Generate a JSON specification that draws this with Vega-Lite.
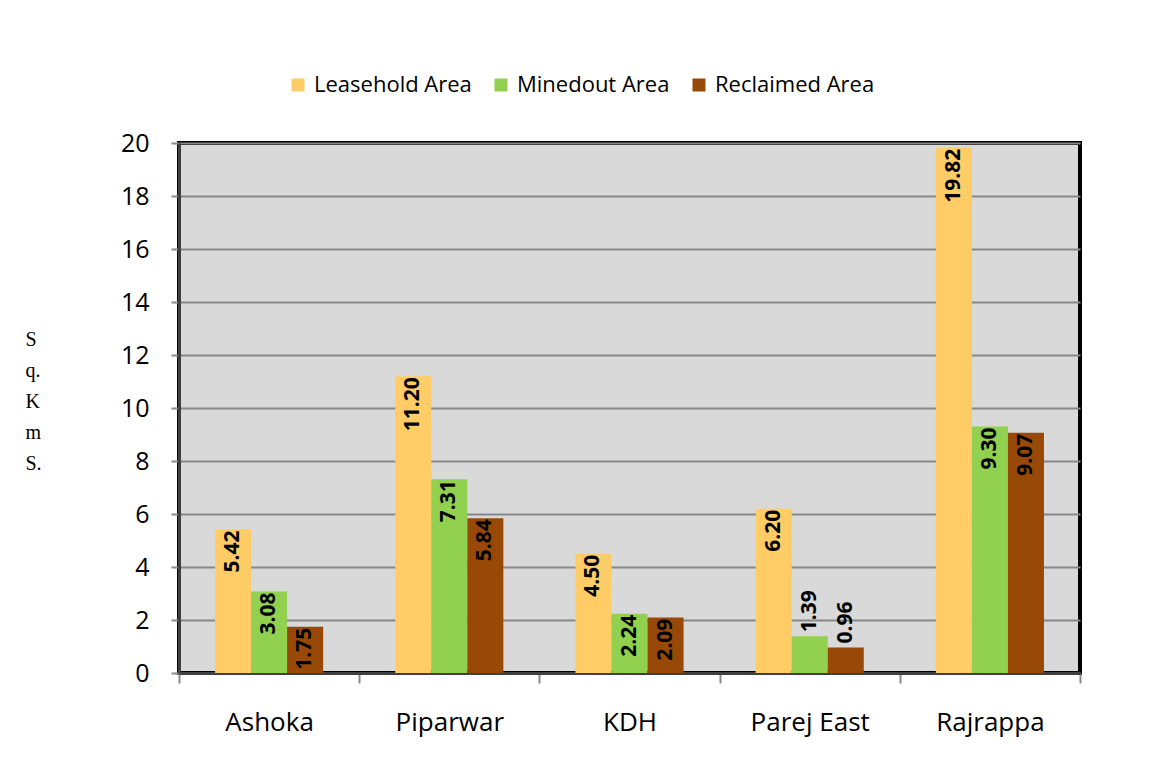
{
  "$schema": "https://vega.github.io/schema/vega-lite/v6.json",
  "width": 901,
  "height": 530,
  "autosize": {"type": "none"},
  "padding": {"left": 179, "top": 143, "right": 88, "bottom": 85},
  "background": "white",
  "config": {
    "view": {"fill": "#D9D9D9", "stroke": "#000000", "strokeWidth": 4},
    "font": "Open Sans"
  },
  "data": {
    "values": [
      {"mine": "Ashoka", "series": "Leasehold Area", "value": 5.42},
      {"mine": "Ashoka", "series": "Minedout Area", "value": 3.08},
      {"mine": "Ashoka", "series": "Reclaimed Area", "value": 1.75},
      {"mine": "Piparwar", "series": "Leasehold Area", "value": 11.20},
      {"mine": "Piparwar", "series": "Minedout Area", "value": 7.31},
      {"mine": "Piparwar", "series": "Reclaimed Area", "value": 5.84},
      {"mine": "KDH", "series": "Leasehold Area", "value": 4.50},
      {"mine": "KDH", "series": "Minedout Area", "value": 2.24},
      {"mine": "KDH", "series": "Reclaimed Area", "value": 2.09},
      {"mine": "Parej East", "series": "Leasehold Area", "value": 6.20},
      {"mine": "Parej East", "series": "Minedout Area", "value": 1.39},
      {"mine": "Parej East", "series": "Reclaimed Area", "value": 0.96},
      {"mine": "Rajrappa", "series": "Leasehold Area", "value": 19.82},
      {"mine": "Rajrappa", "series": "Minedout Area", "value": 9.30},
      {"mine": "Rajrappa", "series": "Reclaimed Area", "value": 9.07}
    ]
  },
  "encoding": {
    "x": {
      "field": "mine",
      "type": "nominal",
      "sort": ["Ashoka", "Piparwar", "KDH", "Parej East", "Rajrappa"],
      "scale": {"paddingInner": 0, "paddingOuter": 0},
      "axis": {
        "title": null,
        "labelAngle": 0,
        "labelFont": "Open Sans",
        "labelFontSize": 26,
        "labelColor": "#000000",
        "labelPadding": 26,
        "domainColor": "#404040",
        "domainWidth": 3,
        "tickColor": "#888888",
        "tickWidth": 2,
        "tickSize": 10,
        "tickBand": "extent"
      }
    },
    "xOffset": {
      "field": "series",
      "sort": ["Leasehold Area", "Minedout Area", "Reclaimed Area"],
      "scale": {"paddingInner": 0, "paddingOuter": 1}
    },
    "y": {
      "field": "value",
      "type": "quantitative",
      "scale": {"domain": [0, 20], "nice": false},
      "axis": {
        "values": [0, 2, 4, 6, 8, 10, 12, 14, 16, 18, 20],
        "labelFont": "Open Sans",
        "labelFontSize": 25,
        "labelColor": "#000000",
        "labelPadding": 22,
        "domainColor": "#404040",
        "domainWidth": 3,
        "tickColor": "#888888",
        "tickWidth": 2,
        "tickSize": 8,
        "grid": true,
        "gridColor": "#888888",
        "gridWidth": 2,
        "title": ["S", "q.", "K", "m", "S."],
        "titleFont": "Liberation Serif",
        "titleFontSize": 20,
        "titleFontWeight": "normal",
        "titleColor": "#000000",
        "titleAngle": 0,
        "titleAlign": "left",
        "titleBaseline": "alphabetic",
        "titleX": -154,
        "titleY": 202,
        "titleLineHeight": 31
      }
    }
  },
  "layer": [
    {
      "mark": {"type": "bar"},
      "encoding": {
        "color": {
          "field": "series",
          "type": "nominal",
          "sort": ["Leasehold Area", "Minedout Area", "Reclaimed Area"],
          "scale": {
            "domain": ["Leasehold Area", "Minedout Area", "Reclaimed Area"],
            "range": ["#FFCC66", "#92D050", "#984807"]
          },
          "legend": {
            "title": null,
            "orient": "none",
            "legendX": 108,
            "legendY": -69,
            "direction": "horizontal",
            "symbolType": "square",
            "symbolSize": 169,
            "symbolStrokeWidth": 0,
            "symbolOpacity": 1,
            "labelFont": "Open Sans",
            "labelFontSize": 22,
            "labelColor": "#000000",
            "labelOffset": 5,
            "columnPadding": 18
          }
        }
      }
    },
    {
      "transform": [{"filter": "datum.value >= 1.5"}],
      "mark": {
        "type": "text",
        "angle": 270,
        "align": "right",
        "baseline": "middle",
        "dx": -1,
        "font": "Open Sans",
        "fontSize": 21,
        "fontWeight": "bold",
        "color": "#000000"
      },
      "encoding": {"text": {"field": "value", "type": "quantitative", "format": ".2f"}}
    },
    {
      "transform": [{"filter": "datum.value < 1.5"}],
      "mark": {
        "type": "text",
        "angle": 270,
        "align": "left",
        "baseline": "middle",
        "dx": 4,
        "font": "Open Sans",
        "fontSize": 21,
        "fontWeight": "bold",
        "color": "#000000"
      },
      "encoding": {"text": {"field": "value", "type": "quantitative", "format": ".2f"}}
    }
  ]
}
